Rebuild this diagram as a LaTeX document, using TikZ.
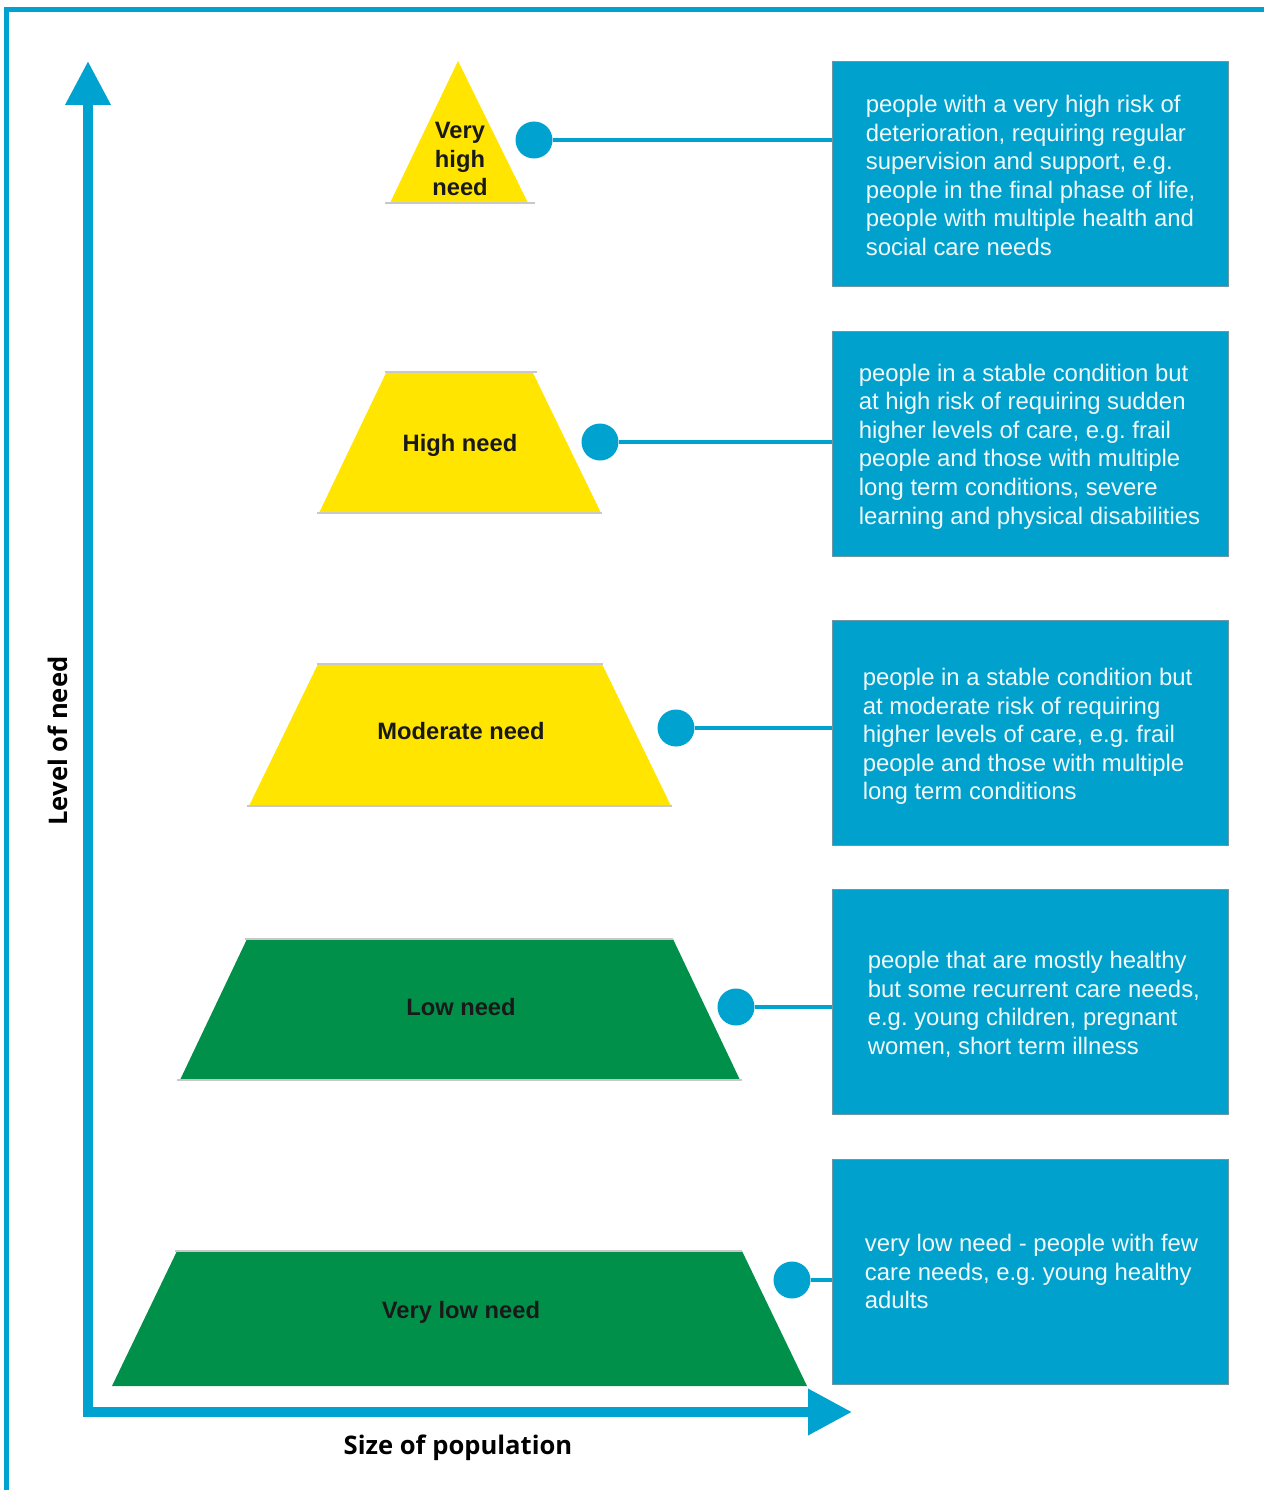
\documentclass[tikz,border=0pt]{standalone}
\usepackage{fontspec}
\setmainfont{Liberation Sans}
\newfontfamily\axisfont{Open Sans}
\usetikzlibrary{arrows.meta}
\frenchspacing
\definecolor{nhsblue}{RGB}{0,162,207}
\definecolor{boxblue}{RGB}{0,161,205}
\definecolor{needyellow}{RGB}{255,229,0}
\definecolor{needgreen}{RGB}{0,144,74}
\definecolor{rulegray}{RGB}{200,200,200}
\definecolor{boxedge}{RGB}{110,150,165}
\definecolor{boxtextcol}{RGB}{240,248,250}
\tikzset{
  frameline/.style={draw=nhsblue, line width=5pt},
  axisline/.style={draw=nhsblue, line width=10pt, line join=miter,
     {Triangle[width=43pt,length=44pt]}-{Triangle[width=44pt,length=44pt]}},
  baseline rule/.style={draw=rulegray, line width=1.6pt},
  infobox/.style={rectangle, fill=boxblue, draw=boxedge, line width=0.8pt,
     minimum width=396pt, minimum height=225pt, inner sep=0pt},
  boxtext/.style={anchor=west, align=left, text=boxtextcol, inner sep=0pt,
     font=\fontsize{23.9}{28.6}\selectfont},
  dot/.style={circle, fill=nhsblue, minimum size=37pt, inner sep=0pt},
  link/.style={draw=nhsblue, line width=4pt},
  needlabel/.style={font=\bfseries\fontsize{23.7}{28.6}\selectfont, text=black!90, align=center, inner sep=0pt},
  axislabel/.style={font=\axisfont\bfseries\fontsize{25.6}{30}\selectfont, text=black, inner sep=0pt}
}
\begin{document}
\begin{tikzpicture}[x=1pt,y=-1pt]
\useasboundingbox (0,0) rectangle (1264,1490);
\fill[white] (0,0) rectangle (1264,1490);
% outer frame
\draw[frameline] (6.5,1490) -- (6.5,10) -- (1264,10);
% axes
\coordinate (ytop) at (88,61);
\coordinate (corner) at (88,1412);
\coordinate (xend) at (852,1412);
\draw[axisline] (ytop) -- (corner) -- (xend);
\node[axislabel, rotate=90] (ylab) at (58,741) {Level of need};
\node[axislabel] (xlab) at (458,1448) {Size of population};

% pyramid levels
\fill[needyellow] (458,61) -- (528,203) -- (390,203) -- cycle;
\draw[baseline rule] (385,203) -- (535,203);
\node[needlabel] (t1) at (460,159) {Very\\high\\need};

\fill[needyellow] (386,373) -- (533,373) -- (601,513) -- (319,513) -- cycle;
\draw[baseline rule] (385,372) -- (537,372);
\draw[baseline rule] (317,513) -- (602,513);
\node[needlabel] (t2) at (460,445) {High need};

\fill[needyellow] (318,664) -- (602,664) -- (671,806) -- (249,806) -- cycle;
\draw[baseline rule] (317,664) -- (603,664);
\draw[baseline rule] (247,806) -- (672,806);
\node[needlabel] (t3) at (461,731) {Moderate need};

\fill[needgreen] (247,939) -- (673,939) -- (740,1080) -- (180,1080) -- cycle;
\draw[baseline rule] (245,939) -- (673,939);
\draw[baseline rule] (177,1080) -- (742,1080);
\node[needlabel] (t4) at (461,1007) {Low need};

\fill[needgreen] (177,1251) -- (742,1251) -- (807,1386) -- (112,1386) -- cycle;
\draw[baseline rule] (175,1251) -- (742,1251);
\node[needlabel] (t5) at (461,1312) {Very low need};

% description boxes
\node[infobox] (b1) at (1030,173.5) {};
\node[boxtext] (b1t) at ([xshift=34pt,yshift=-2pt]b1.west) {people with a very high risk of\\deterioration, requiring regular\\supervision and support, e.g.\\people in the final phase of life,\\people with multiple health and\\social care needs};
\node[infobox] (b2) at (1030,443.5) {};
\node[boxtext] (b2t) at ([xshift=27pt,yshift=-3pt]b2.west) {people in a stable condition but\\at high risk of requiring sudden\\higher levels of care, e.g. frail\\people and those with multiple\\long term conditions, severe\\learning and physical disabilities};
\node[infobox] (b3) at (1030,732.5) {};
\node[boxtext] (b3t) at ([xshift=31pt,yshift=-4pt]b3.west) {people in a stable condition but\\at moderate risk of requiring\\higher levels of care, e.g. frail\\people and those with multiple\\long term conditions};
\node[infobox] (b4) at (1030,1001.5) {};
\node[boxtext] (b4t) at ([xshift=36pt,yshift=-3pt]b4.west) {people that are mostly healthy\\but some recurrent care needs,\\e.g. young children, pregnant\\women, short term illness};
\node[infobox] (b5) at (1030,1271.5) {};
\node[boxtext] (b5t) at ([xshift=33pt]b5.west) {very low need - people with few\\care needs, e.g. young healthy\\adults};

% connectors
\node[dot] (c1) at (534,140) {};
\node[dot] (c2) at (600,442) {};
\node[dot] (c3) at (676,728) {};
\node[dot] (c4) at (736,1007) {};
\node[dot] (c5) at (792,1280) {};
\draw[link] (c1) -- (c1 -| b1.west);
\draw[link] (c2) -- (c2 -| b2.west);
\draw[link] (c3) -- (c3 -| b3.west);
\draw[link] (c4) -- (c4 -| b4.west);
\draw[link] (c5) -- (c5 -| b5.west);
\end{tikzpicture}
\end{document}
